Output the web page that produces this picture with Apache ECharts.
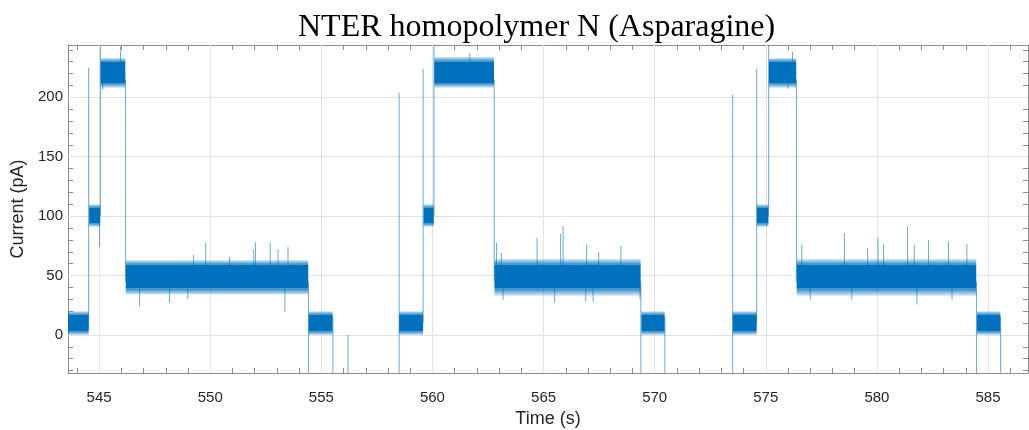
<!DOCTYPE html>
<html>
<head>
<meta charset="utf-8">
<script src="https://cdn.jsdelivr.net/npm/echarts@6/dist/echarts.min.js"></script>
<style>
html,body{margin:0;padding:0;background:#fff;}
#chart{width:1029px;height:430px;}
</style>
</head>
<body>
<div id="chart"></div>
<script>
// ---- data ----
// Current levels: [start s, end s, outer low, inner low, inner high, outer high] (pA)
const levelSegments = [
  [543.60, 544.53, 0, 3, 17, 20],
  [544.55, 545.05, 91, 94, 107, 110],
  [545.07, 546.18, 208, 212, 230, 233],
  [546.20, 554.41, 34, 39, 59, 63],
  [554.43, 555.51, 0, 3, 17, 20],
  [558.50, 559.58, 0, 3, 17, 20],
  [559.60, 560.06, 91, 94, 107, 110],
  [560.08, 562.77, 208, 212, 230, 234],
  [562.79, 569.37, 33, 39, 59, 64],
  [569.40, 570.45, 0, 3, 17, 20],
  [573.51, 574.59, 0, 3, 17, 20],
  [574.60, 575.12, 91, 94, 107, 110],
  [575.14, 576.37, 208, 212, 230, 233],
  [576.39, 584.47, 33, 39, 59, 64],
  [584.50, 585.56, 0, 3, 17, 20]
];
// Transitions and spikes: [time s, low pA, high pA]
const spikeEvents = [
  // cycle 1
  [544.53, 5, 225], [545.02, 74, 100], [545.06, 100, 260], [545.16, 206, 215],
  [545.96, 228, 242.5], [546.19, 45, 215],
  [546.82, 24, 40], [548.17, 27, 40], [548.99, 30, 40], [549.25, 58, 67.5],
  [549.80, 58, 77.8], [550.87, 58, 66], [551.96, 58, 72], [552.04, 58, 78],
  [552.70, 58, 77.8], [553.05, 58, 72], [553.36, 19.6, 40], [553.50, 58, 74],
  [554.42, -60, 45], [555.52, -60, 15], [556.20, -60, 0],
  // cycle 2
  [558.50, -60, 204], [559.58, 10, 224], [560.07, 100, 260], [561.68, 228, 237.5],
  [562.78, 45, 215], [562.88, 58, 77.8], [563.10, 58, 69], [563.18, 29.7, 40],
  [564.71, 58, 81.5], [565.50, 27.4, 40], [565.77, 58, 85], [565.88, 58, 91.8],
  [566.90, 28, 40], [566.94, 58, 75.9], [567.23, 28, 40], [567.48, 58, 70],
  [568.48, 58, 75], [569.34, 30, 40],
  [569.38, -60, 45], [570.46, -60, 15],
  // cycle 3
  [573.51, -60, 202], [574.59, 10, 224], [575.13, 100, 260], [575.99, 207, 215],
  [576.20, 228, 238.3], [576.38, 45, 215],
  [576.62, 58, 76], [577.00, 29.7, 40], [578.54, 58, 85.7], [578.87, 29.7, 40],
  [579.58, 58, 73], [580.05, 58, 81.5], [580.30, 58, 76.7], [581.38, 58, 91.8],
  [581.68, 58, 76], [581.80, 25.5, 40], [582.32, 58, 80], [583.22, 58, 78.7],
  [583.38, 29.7, 40], [584.05, 58, 76.7],
  [584.48, -60, 45], [585.57, -60, 15]
];
const xMajorTicks = [545, 550, 555, 560, 565, 570, 575, 580, 585];
const xMinorTicks = [544,545,546,547,548,549,550,551,552,553,554,555,556,557,558,559,560,561,562,563,564,565,566,567,568,569,570,571,572,573,574,575,576,577,578,579,580,581,582,583,584,585,586];
const yMajorTicks = [0, 50, 100, 150, 200];
const yMinorTicks = [-30,-20,-10,0,10,20,30,40,50,60,70,80,90,100,110,120,130,140,150,160,170,180,190,200,210,220,230,240];
const titleText = 'NTER homopolymer N (Asparagine)';
const xName = 'Time (s)';
const yName = 'Current (pA)';

// ---- chart ----
const BLUE = '#0072BD';
const AXC = '#8c8c8c';
const TXT = '#262626';
const chart = echarts.init(document.getElementById('chart'), null, {renderer: 'canvas'});

function fringeGrad(darkAtTop) {
  return new echarts.graphic.LinearGradient(0, 0, 0, 1, darkAtTop ? [
    {offset: 0, color: 'rgba(0,114,189,0.85)'},
    {offset: 1, color: 'rgba(0,114,189,0.15)'}
  ] : [
    {offset: 0, color: 'rgba(0,114,189,0.15)'},
    {offset: 1, color: 'rgba(0,114,189,0.85)'}
  ]);
}

function bandRender(params, api) {
  const x0 = api.coord([api.value(0), 0])[0];
  const x1 = api.coord([api.value(1), 0])[0];
  const yOL = api.coord([0, api.value(2)])[1];
  const yIL = api.coord([0, api.value(3)])[1];
  const yIH = api.coord([0, api.value(4)])[1];
  const yOH = api.coord([0, api.value(5)])[1];
  return {
    type: 'group',
    children: [
      {type: 'rect', shape: {x: x0, y: yOH, width: x1 - x0, height: yIH - yOH}, style: {fill: fringeGrad(false)}},
      {type: 'rect', shape: {x: x0, y: yIH, width: x1 - x0, height: yIL - yIH}, style: {fill: BLUE}},
      {type: 'rect', shape: {x: x0, y: yIL, width: x1 - x0, height: yOL - yIL}, style: {fill: fringeGrad(true)}}
    ]
  };
}

const baseX = {
  type: 'value', min: 543.6, max: 586.8,
  axisLine: {show: true, onZero: false, lineStyle: {color: AXC, width: 1}},
  axisTick: {show: true, inside: true, length: 5, customValues: xMinorTicks, lineStyle: {color: AXC}},
  splitLine: {show: false}
};
const baseY = {
  type: 'value', min: -32, max: 244,
  axisLine: {show: true, onZero: false, lineStyle: {color: AXC, width: 1}},
  axisTick: {show: true, inside: true, length: 5, customValues: yMinorTicks, lineStyle: {color: AXC}},
  splitLine: {show: false}
};

const option = {
  animation: false,
  backgroundColor: '#ffffff',
  title: {
    text: titleText, left: 293, top: 7,
    textStyle: {fontFamily: 'Liberation Serif', fontSize: 32, fontWeight: 'normal', color: '#000'}
  },
  grid: {left: 68, right: 1, top: 45, bottom: 57, outerBoundsMode: 'none', containLabel: false},
  xAxis: [
    Object.assign({}, baseX, {
      position: 'bottom',
      name: xName, nameLocation: 'middle', nameGap: 32,
      nameTextStyle: {fontFamily: 'Liberation Sans', fontSize: 18, color: TXT},
      axisLabel: {show: true, customValues: xMajorTicks, margin: 17,
        fontFamily: 'Liberation Sans', fontSize: 15, color: TXT}
    }),
    Object.assign({}, baseX, {position: 'top', axisLabel: {show: false}})
  ],
  yAxis: [
    Object.assign({}, baseY, {
      position: 'left',
      name: yName, nameLocation: 'middle', nameGap: 36,
      nameTextStyle: {fontFamily: 'Liberation Sans', fontSize: 18, color: TXT},
      axisLabel: {show: true, customValues: yMajorTicks, margin: 5,
        fontFamily: 'Liberation Sans', fontSize: 15, color: TXT}
    }),
    Object.assign({}, baseY, {position: 'right', axisLabel: {show: false}})
  ],
  series: [
    {
      type: 'line', data: [], z: 1, silent: true,
      markLine: {
        z: 1, silent: true, symbol: 'none', label: {show: false},
        lineStyle: {color: '#e3e3e3', width: 1, type: 'solid'},
        data: xMajorTicks.map(v => ({xAxis: v})).concat(yMajorTicks.map(v => ({yAxis: v})))
      }
    },
    {
      type: 'custom', clip: true, z: 10, silent: true,
      encode: {x: [0, 1], y: [2, 5]},
      renderItem: bandRender,
      data: levelSegments
    },
    {
      type: 'custom', clip: true, z: 11, silent: true,
      encode: {x: 0, y: [1, 2]},
      renderItem: function (params, api) {
        const a = api.coord([api.value(0), api.value(1)]);
        const b = api.coord([api.value(0), api.value(2)]);
        return {
          type: 'line',
          shape: {x1: a[0], y1: a[1], x2: b[0], y2: b[1]},
          style: {stroke: 'rgba(0,114,189,0.6)', lineWidth: 1}
        };
      },
      data: spikeEvents
    }
  ]
};
chart.setOption(option);
</script>
</body>
</html>
